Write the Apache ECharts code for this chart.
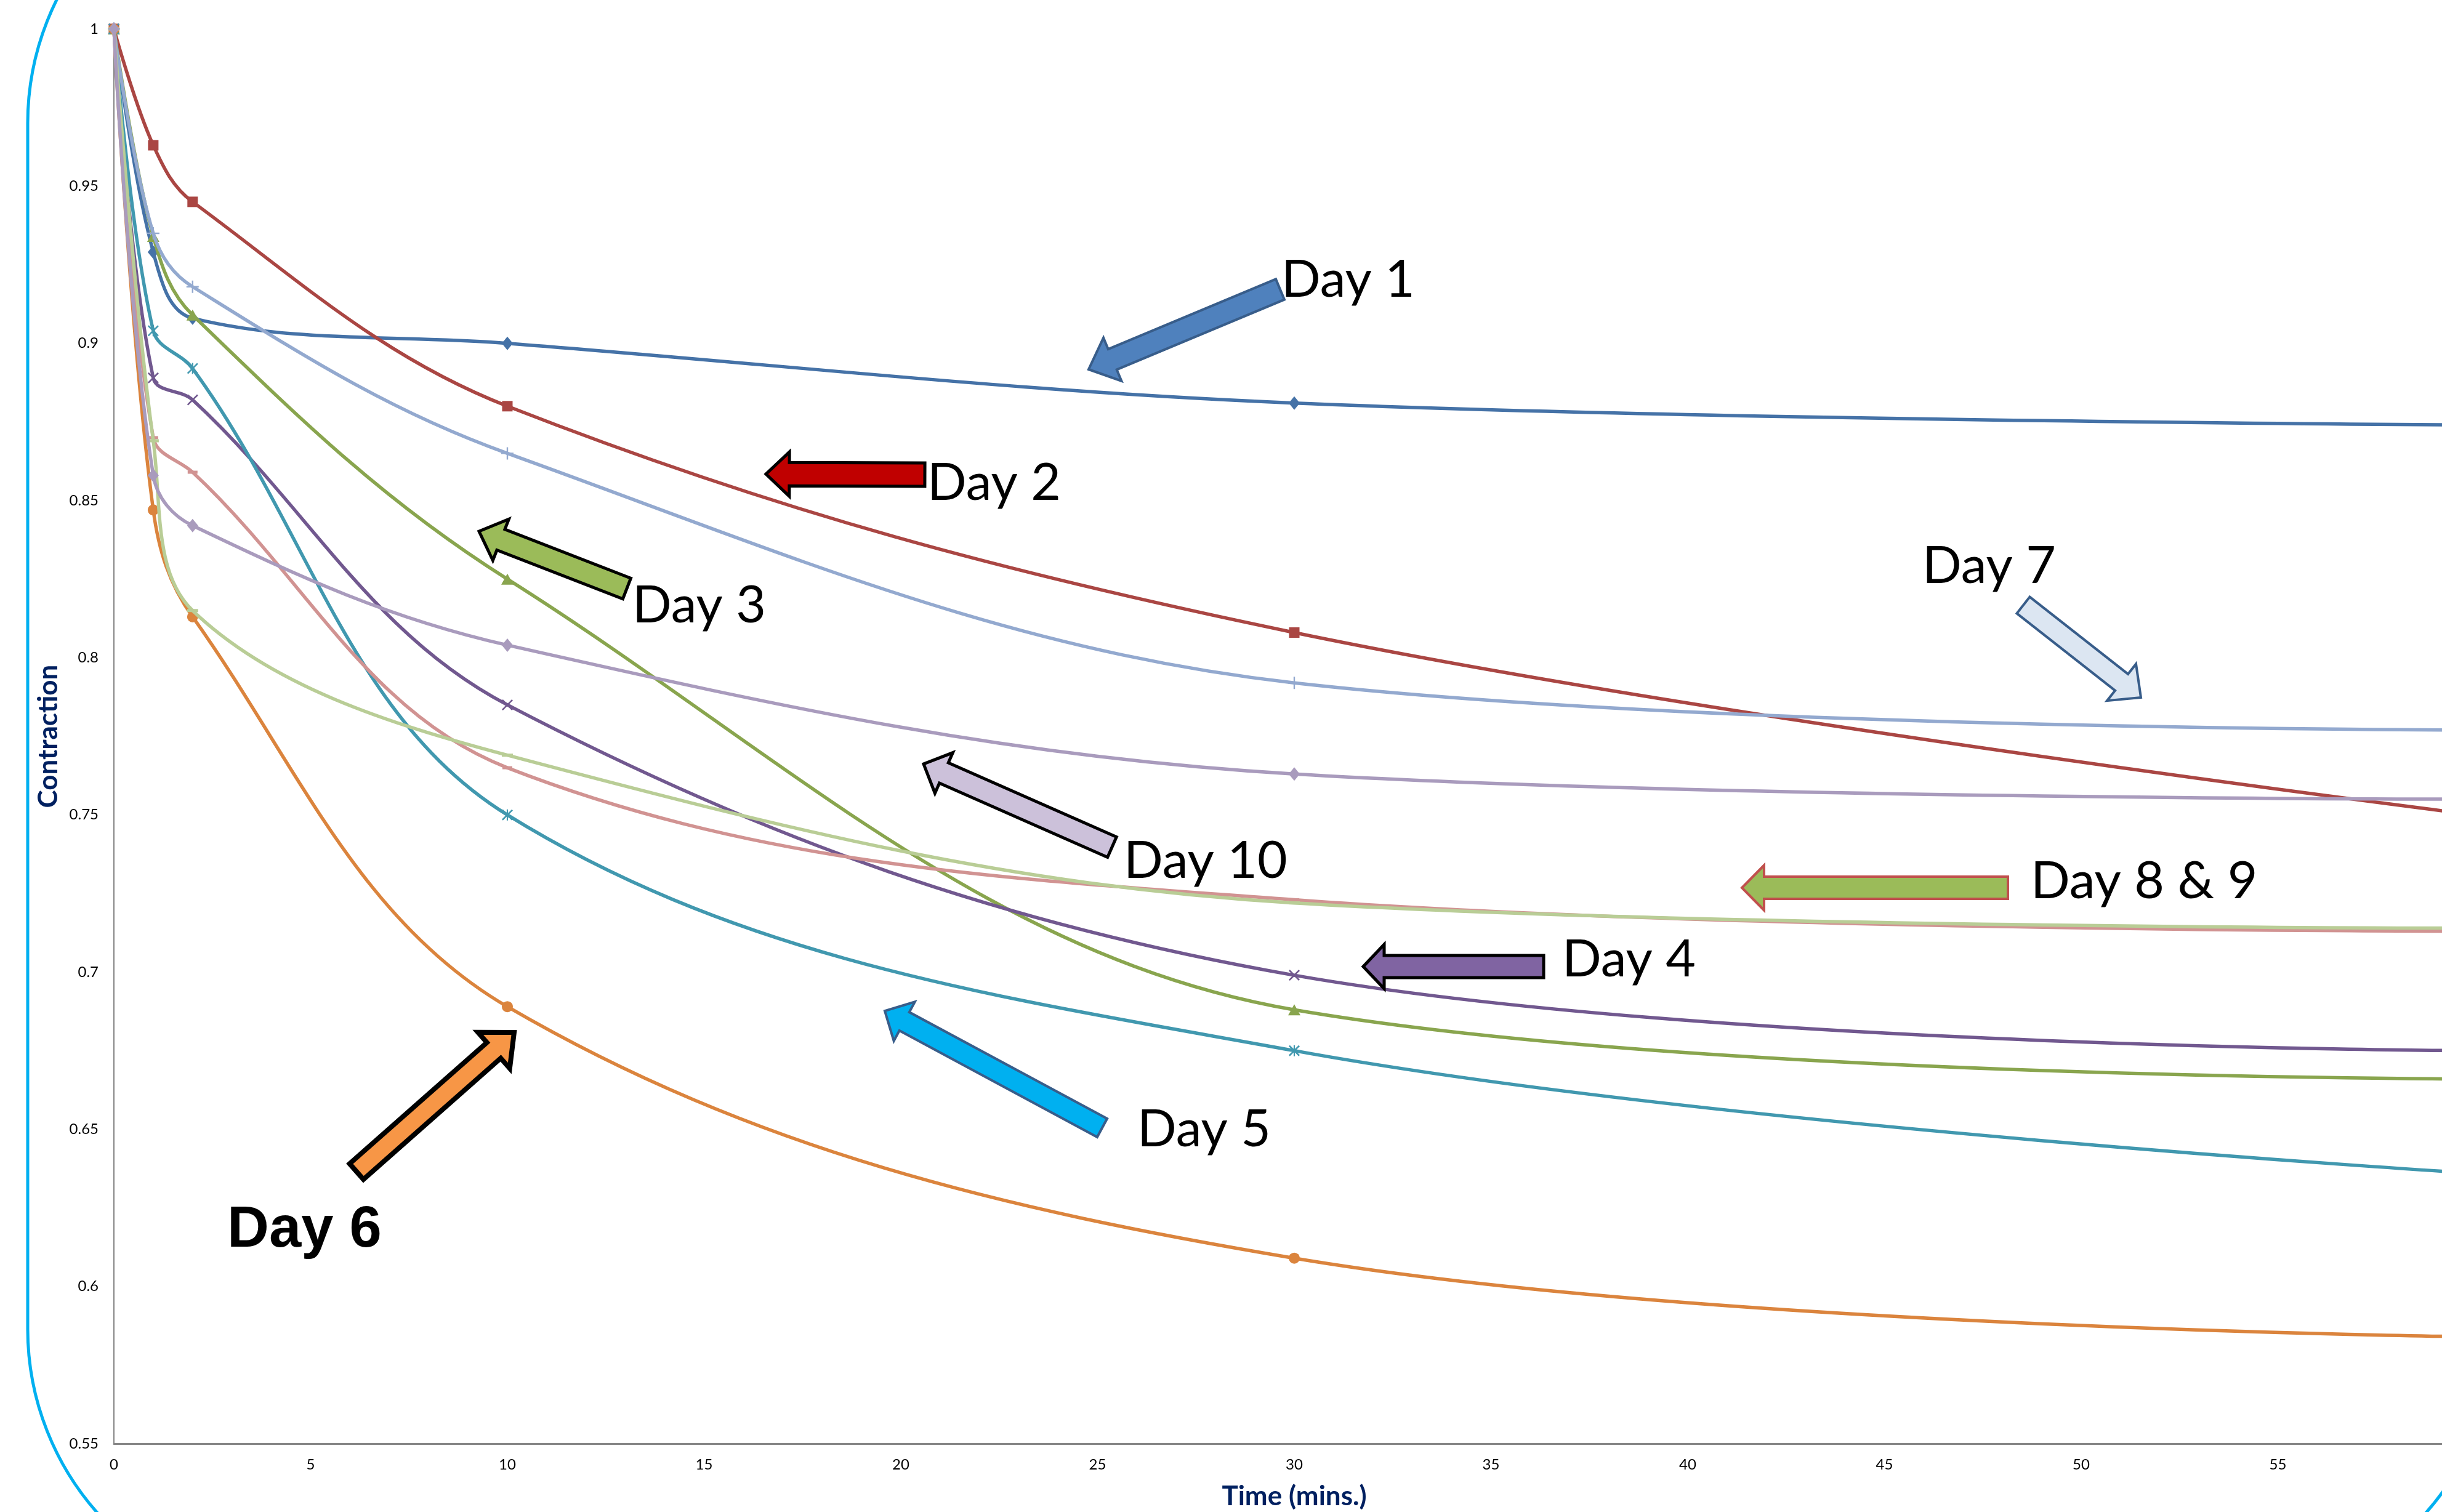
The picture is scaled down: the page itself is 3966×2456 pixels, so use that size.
<!DOCTYPE html>
<html>
<head>
<meta charset="utf-8">
<script src="https://cdn.jsdelivr.net/npm/echarts@6/dist/echarts.min.js"></script>
<style>
html,body{margin:0;padding:0;background:#ffffff;}
#chart{width:3966px;height:2456px;}
</style>
</head>
<body>
<div id="chart"></div>
<script>
// ---- data ----
const timeMins = [0, 1, 2, 10, 30, 60];
const day1  = [1, 0.929, 0.908, 0.900, 0.881, 0.874];
const day2  = [1, 0.963, 0.945, 0.880, 0.808, 0.750];
const day3  = [1, 0.934, 0.909, 0.825, 0.688, 0.666];
const day4  = [1, 0.889, 0.882, 0.785, 0.699, 0.675];
const day5  = [1, 0.904, 0.892, 0.750, 0.675, 0.636];
const day6  = [1, 0.847, 0.813, 0.689, 0.609, 0.584];
const day7  = [1, 0.935, 0.918, 0.865, 0.792, 0.777];
const day8  = [1, 0.870, 0.859, 0.765, 0.723, 0.713];
const day9  = [1, 0.869, 0.815, 0.769, 0.722, 0.714];
const day10 = [1, 0.858, 0.842, 0.804, 0.763, 0.755];
const seriesNames = ['Day 1','Day 2','Day 3','Day 4','Day 5','Day 6','Day 7','Day 8','Day 9','Day 10'];
const seriesValues = [day1, day2, day3, day4, day5, day6, day7, day8, day9, day10];
const annotationLabels = ['Day 1','Day 2','Day 3','Day 10','Day 4','Day 5','Day 6','Day 7','Day 8 & 9'];

// ---- styles ----
const colors = ['#4572A7','#AA4643','#89A54E','#71588F','#4198AF','#DB843D','#93A9CF','#D19392','#B9CD96','#A99BBD'];
const SYM_X = 'path://M0,1L1,0L5,4L9,0L10,1L6,5L10,9L9,10L5,6L1,10L0,9L4,5Z';
const SYM_STAR = 'path://M0,1L1,0L5,4L9,0L10,1L6,5L10,9L9,10L5,6L1,10L0,9L4,5Z M4.4,0H5.6V10H4.4Z';
const SYM_PLUS = 'path://M4.4,0H5.6V4.4H10V5.6H5.6V10H4.4V5.6H0V4.4H4.4Z';
const SYM_DASH = 'path://M0,0H10V2H0Z';
const symbols = ['diamond','rect','triangle',SYM_X,SYM_STAR,'circle',SYM_PLUS,SYM_DASH,SYM_DASH,'diamond'];
const symbolSizes = [[18,22],17,[20,18],18,18,18,20,[16,5],[18,5],[18,22]];

const chart = echarts.init(document.getElementById('chart'), null, {renderer:'canvas'});

const series = seriesNames.map((name, i) => ({
  name: name,
  type: 'line',
  data: timeMins.map((t, k) => [t, seriesValues[i][k]]),
  smooth: 0.36,
  symbol: symbols[i],
  symbolSize: symbolSizes[i],
  showSymbol: true,
  lineStyle: {color: colors[i], width: 5.5},
  itemStyle: {color: colors[i]},
  z: 3 + i
}));

// ---- annotation arrows (decorations, pixel positions) ----
const arrowDefs = [
  {tail:[2079,470], tip:[1768,600], sw:36, hw:76, hl:42, fill:'#4F81BD', stroke:'#385D8A', lw:4},
  {tail:[1502,771], tip:[1244,770], sw:38, hw:72, hl:38, fill:'#C00000', stroke:'#000000', lw:5},
  {tail:[1018,956], tip:[778,863],  sw:36, hw:72, hl:38, fill:'#9BBB59', stroke:'#000000', lw:5},
  {tail:[1806,1376],tip:[1500,1241],sw:36, hw:72, hl:36, fill:'#CCC1DA', stroke:'#000000', lw:5},
  {tail:[2507,1570],tip:[2214,1570],sw:36, hw:72, hl:34, fill:'#8064A2', stroke:'#000000', lw:5},
  {tail:[1790,1832],tip:[1437,1642],sw:34, hw:72, hl:36, fill:'#00B0F0', stroke:'#385D8A', lw:4},
  {tail:[579,1903], tip:[835,1677], sw:34, hw:78, hl:44, fill:'#F79646', stroke:'#000000', lw:8},
  {tail:[3286,983], tip:[3477,1133],sw:34, hw:76, hl:40, fill:'#DCE6F2', stroke:'#385D8A', lw:4},
  {tail:[3261,1442],tip:[2829,1442],sw:36, hw:73, hl:36, fill:'#9BBB59', stroke:'#C0504D', lw:4}
];
const labelPos = [
  {x:2081, y:455, bold:false},
  {x:1506, y:785, bold:false},
  {x:1027, y:984, bold:false},
  {x:1825, y:1399, bold:false},
  {x:2537, y:1559, bold:false},
  {x:1847, y:1835, bold:false},
  {x:369,  y:1999, bold:true},
  {x:3122, y:920, bold:false},
  {x:3298, y:1432, bold:false}
];

function arrowPoints(a) {
  const dx = a.tip[0]-a.tail[0], dy = a.tip[1]-a.tail[1];
  const L = Math.hypot(dx, dy);
  const ux = dx/L, uy = dy/L, px = -uy, py = ux;
  const bx = a.tip[0]-ux*a.hl, by = a.tip[1]-uy*a.hl;
  const s = a.sw/2, h = a.hw/2;
  return [
    [a.tail[0]+px*s, a.tail[1]+py*s],
    [bx+px*s, by+py*s],
    [bx+px*h, by+py*h],
    [a.tip[0], a.tip[1]],
    [bx-px*h, by-py*h],
    [bx-px*s, by-py*s],
    [a.tail[0]-px*s, a.tail[1]-py*s]
  ];
}

const graphics = [
  {type:'rect', z:-10, silent:true,
   shape:{x:45, y:-250, width:4008, height:2859, r:450},
   style:{fill:'none', stroke:'#00B0F0', lineWidth:5}}
];
arrowDefs.forEach(a => {
  graphics.push({type:'polygon', z:100, silent:true,
    shape:{points: arrowPoints(a)},
    style:{fill:a.fill, stroke:a.stroke, lineWidth:a.lw, lineJoin:'miter'}});
});
annotationLabels.forEach((t, i) => {
  const p = labelPos[i];
  graphics.push({type:'text', z:101, silent:true, x:p.x, y:p.y,
    style:{text:t, fill:'#000000',
      font: p.bold ? 'bold 94px "Liberation Sans", Arial, sans-serif' : '84px Lato, "Open Sans", sans-serif',
      align:'left', verticalAlign:'middle'}});
});

const option = {
  animation: false,
  backgroundColor: '#ffffff',
  grid: {left:185, top:47, width:3834, height:2298, containLabel:false, outerBoundsMode:'none'},
  xAxis: {
    type:'value', min:0, max:60, interval:5,
    name:'Time (mins.)', nameLocation:'middle', nameGap:64,
    nameTextStyle:{fontFamily:'Lato', fontWeight:'bold', fontSize:44, color:'#002060'},
    axisLine:{show:true, onZero:false, lineStyle:{color:'#868686', width:3}},
    axisTick:{show:false},
    splitLine:{show:false},
    axisLabel:{fontFamily:'Lato', fontSize:24, color:'#000000', margin:22}
  },
  yAxis: {
    type:'value', min:0.55, max:1, interval:0.05,
    name:'Contraction', nameLocation:'middle', nameRotate:90, nameGap:84,
    nameTextStyle:{fontFamily:'Lato', fontWeight:'bold', fontSize:44, color:'#002060'},
    axisLine:{show:true, lineStyle:{color:'#868686', width:2}},
    axisTick:{show:false},
    splitLine:{show:false},
    axisLabel:{fontFamily:'Lato', fontSize:24, color:'#000000', margin:25}
  },
  series: series,
  graphic: graphics
};
chart.setOption(option);
</script>
</body>
</html>
